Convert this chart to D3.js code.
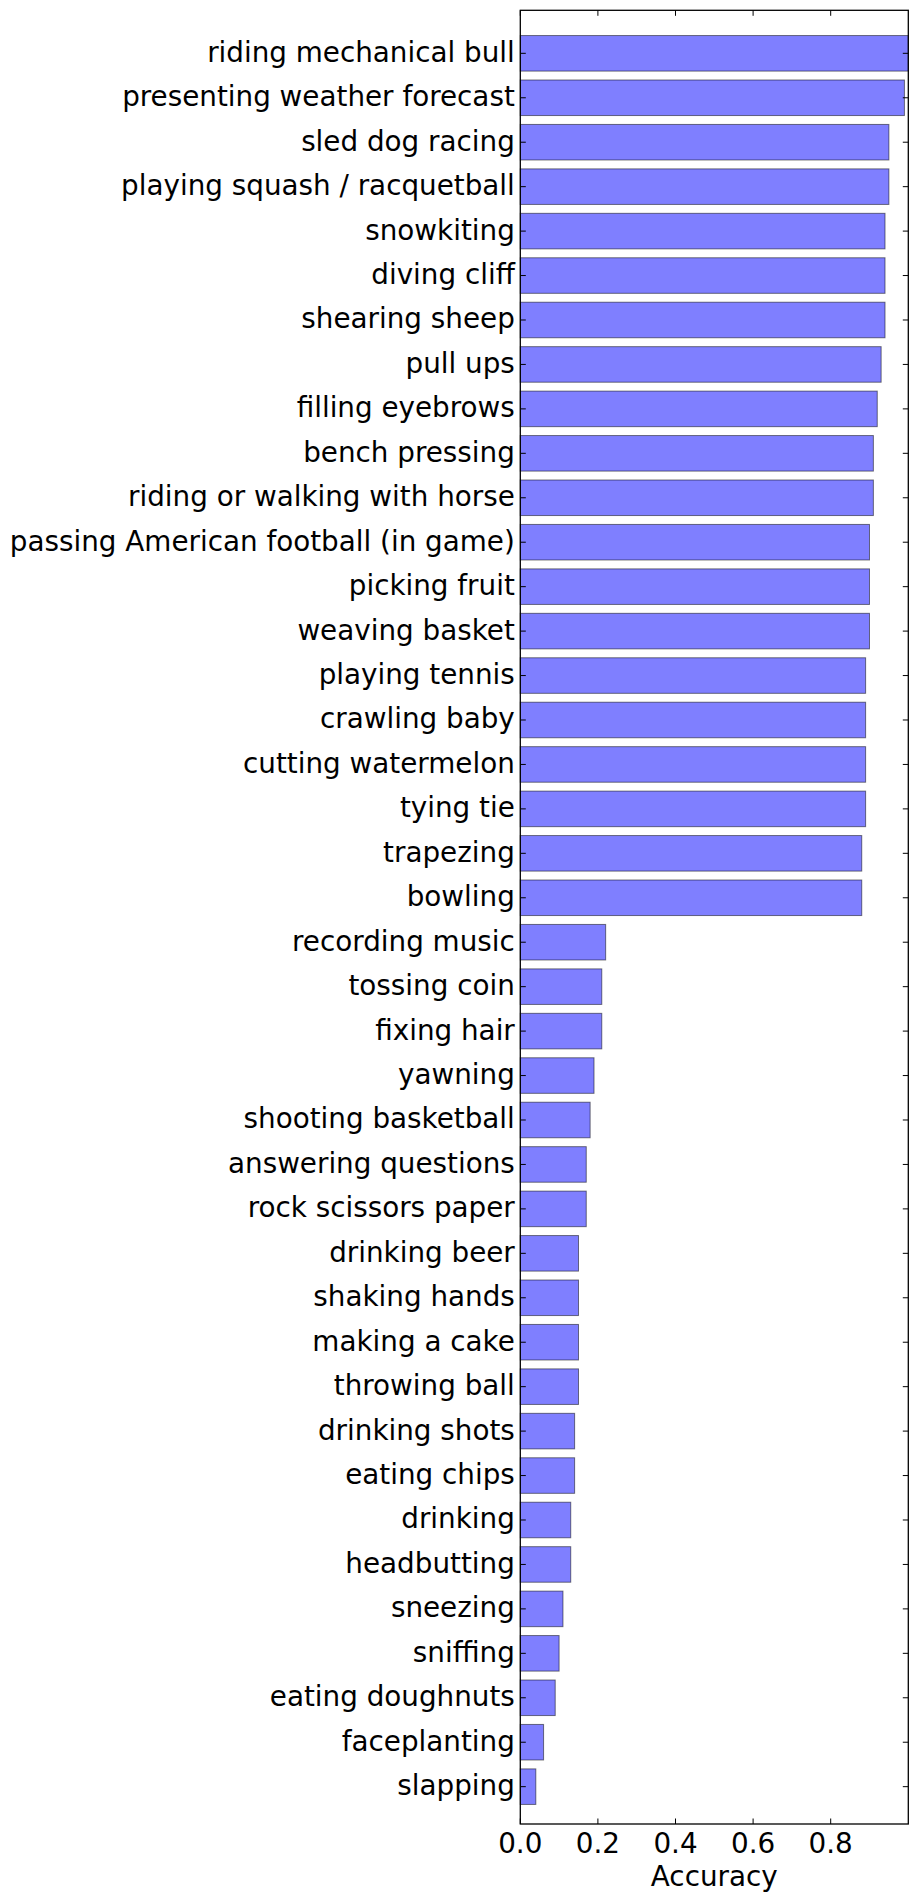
<!DOCTYPE html>
<html>
<head>
<meta charset="utf-8">
<script src="https://cdn.jsdelivr.net/npm/d3@7"></script>
<style>
  html, body { margin: 0; padding: 0; background: #fff; }
  svg { display: block; }
  text { font-family: "DejaVu Sans", sans-serif; fill: #000; }
</style>
</head>
<body>
<svg id="chart" width="917" height="1900"></svg>
<script>
const categories = [
  "riding mechanical bull", "presenting weather forecast", "sled dog racing",
  "playing squash / racquetball", "snowkiting", "diving cliff", "shearing sheep",
  "pull ups", "filling eyebrows", "bench pressing", "riding or walking with horse",
  "passing American football (in game)", "picking fruit", "weaving basket",
  "playing tennis", "crawling baby", "cutting watermelon", "tying tie",
  "trapezing", "bowling", "recording music", "tossing coin", "fixing hair",
  "yawning", "shooting basketball", "answering questions", "rock scissors paper",
  "drinking beer", "shaking hands", "making a cake", "throwing ball",
  "drinking shots", "eating chips", "drinking", "headbutting", "sneezing",
  "sniffing", "eating doughnuts", "faceplanting", "slapping"
];
const accuracy = [
  1.00, 0.99, 0.95, 0.95, 0.94, 0.94, 0.94, 0.93, 0.92, 0.91, 0.91,
  0.90, 0.90, 0.90, 0.89, 0.89, 0.89, 0.89, 0.88, 0.88, 0.22, 0.21, 0.21,
  0.19, 0.18, 0.17, 0.17, 0.15, 0.15, 0.15, 0.15, 0.14, 0.14, 0.13, 0.13,
  0.11, 0.10, 0.09, 0.06, 0.04
];
const xTicks = [0, 0.2, 0.4, 0.6, 0.8];
const xLabel = "Accuracy";

const svg = d3.select("#chart");
const L = 520.3, R = 908.3, T = 10.3, B = 1824;
const fontSize = 27.8;

const x = d3.scaleLinear().domain([0, 1.0]).range([L, R]);
const y = d3.scaleLinear().domain([-0.968, 39.84]).range([T, B]);
const barH = y(0.8) - y(0);

// bars
svg.append("g").selectAll("rect").data(categories).join("rect")
  .attr("x", x(0))
  .attr("y", (d, i) => y(i) - barH / 2)
  .attr("width", (d, i) => x(accuracy[i]) - x(0))
  .attr("height", barH)
  .attr("fill", "rgba(0,0,255,0.5)")
  .attr("stroke", "rgba(0,0,0,0.5)")
  .attr("stroke-width", 1);

// frame
svg.append("rect").attr("x", L).attr("y", T).attr("width", R - L).attr("height", B - T)
  .attr("fill", "none").attr("stroke", "#000").attr("stroke-width", 1.3);

const tickLen = 5.5;
// y ticks (left and right, inward)
const yt = svg.append("g");
categories.forEach((c, i) => {
  yt.append("line").attr("x1", L).attr("x2", L + tickLen).attr("y1", y(i)).attr("y2", y(i))
    .attr("stroke", "#000").attr("stroke-width", 1);
  yt.append("line").attr("x1", R).attr("x2", R - tickLen).attr("y1", y(i)).attr("y2", y(i))
    .attr("stroke", "#000").attr("stroke-width", 1);
});
svg.append("g").selectAll("text").data(categories).join("text")
  .attr("x", L - 5.5)
  .attr("y", (d, i) => y(i) + 8.5)
  .attr("text-anchor", "end")
  .attr("font-size", fontSize)
  .text(d => d);

// x ticks (top and bottom, inward)
const xt = svg.append("g");
xTicks.forEach(t => {
  xt.append("line").attr("x1", x(t)).attr("x2", x(t)).attr("y1", B).attr("y2", B - tickLen)
    .attr("stroke", "#000").attr("stroke-width", 1);
  xt.append("line").attr("x1", x(t)).attr("x2", x(t)).attr("y1", T).attr("y2", T + tickLen)
    .attr("stroke", "#000").attr("stroke-width", 1);
});
svg.append("g").selectAll("text").data(xTicks).join("text")
  .attr("x", d => x(d))
  .attr("y", B + 28.5)
  .attr("text-anchor", "middle")
  .attr("font-size", fontSize)
  .text(d => d3.format(".1f")(d));

svg.append("text")
  .attr("x", (L + R) / 2)
  .attr("y", 1885.7)
  .attr("text-anchor", "middle")
  .attr("font-size", fontSize)
  .text(xLabel);
</script>
</body>
</html>
